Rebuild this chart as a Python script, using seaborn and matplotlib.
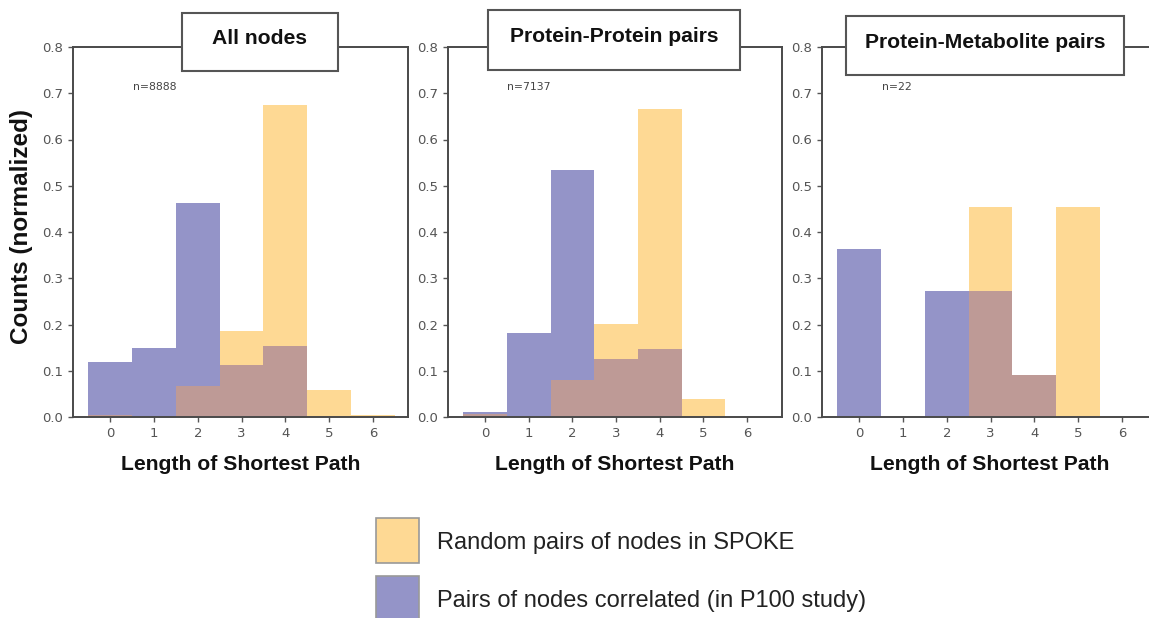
import numpy as np
import pandas as pd
import matplotlib
matplotlib.use("Agg")
import matplotlib.pyplot as plt
from matplotlib.patches import Rectangle
import seaborn as sns

# ---- data ----
path_lengths = [0, 1, 2, 3, 4, 5, 6]
panel_titles = ["All nodes", "Protein-Protein pairs", "Protein-Metabolite pairs"]
panel_n = ["n=8888", "n=7137", "n=22"]

random_all = [0.005, 0.0, 0.067, 0.187, 0.675, 0.059, 0.005]
corr_all = [0.119, 0.149, 0.463, 0.113, 0.154, 0.0, 0.0]

random_pp = [0.0065, 0.0, 0.081, 0.202, 0.667, 0.040, 0.0]
corr_pp = [0.011, 0.182, 0.534, 0.126, 0.146, 0.0, 0.0]

random_pm = [0.0, 0.0, 0.0, 0.455, 0.091, 0.455, 0.0]
corr_pm = [0.364, 0.0, 0.273, 0.273, 0.091, 0.0, 0.0]

yticks = [0.0, 0.1, 0.2, 0.3, 0.4, 0.5, 0.6, 0.7, 0.8]
legend_labels = ["Random pairs of nodes in SPOKE",
                 "Pairs of nodes correlated (in P100 study)"]

YELLOW = "#FED994"
PURPLE = "#9494C8"
BROWN = "#BE9A96"

sns.set_style("ticks")
plt.rcParams["font.family"] = ["DejaVu Sans"]

W, H = 1149, 618
fig = plt.figure(figsize=(W / 100, H / 100), dpi=100)

def fx(px):
    return px / W

def fy(py):
    return 1 - py / H

axes_px = [(73, 408), (448, 782), (822, 1157)]
top_px, bot_px = 47, 417
boxes_px = [(182, 13, 338, 71), (488, 10, 740, 70), (846, 16, 1124, 75)]
n_px = [133, 507, 882]

data = [(random_all, corr_all), (random_pp, corr_pp), (random_pm, corr_pm)]

for i, ((l, r), (rnd, cor)) in enumerate(zip(axes_px, data)):
    ax = fig.add_axes([fx(l), fy(bot_px), (r - l) / W, (bot_px - top_px) / H])
    df = pd.DataFrame({"length": path_lengths, "random": rnd, "corr": cor})
    df["overlap"] = np.minimum(df["random"], df["corr"])
    for col, c in [("random", YELLOW), ("corr", PURPLE), ("overlap", BROWN)]:
        sns.histplot(data=df, x="length", weights=col, discrete=True, shrink=1,
                     color=c, alpha=1, linewidth=0, edgecolor=c, ax=ax)
    ax.set_xlim(-0.85, 6.8)
    ax.set_ylim(0, 0.8)
    ax.set_xticks(path_lengths)
    ax.set_yticks(yticks)
    ax.set_yticklabels([f"{v:.1f}" for v in yticks])
    ax.tick_params(axis="both", labelsize=9.5, colors="#555555", length=3.5, width=1)
    for s in ax.spines.values():
        s.set_color("#4a4a4a")
        s.set_linewidth(1.4)
    ax.set_ylabel("")
    ax.set_xlabel("Length of Shortest Path", fontsize=15.2, fontweight="bold",
                  family="Liberation Sans", color="#111111", labelpad=11)
    ax.text(fx(n_px[i]), fy(87), panel_n[i], transform=fig.transFigure,
            fontsize=7.8, color="#444444", va="center", ha="left")
    bx0, by0, bx1, by1 = boxes_px[i]
    fig.patches.append(Rectangle((fx(bx0), fy(by1)), (bx1 - bx0) / W, (by1 - by0) / H,
                                 transform=fig.transFigure, facecolor="white",
                                 edgecolor="#555555", linewidth=1.5, zorder=5))
    fig.text(fx((bx0 + bx1) / 2), fy((by0 + by1) / 2 - 3), panel_titles[i],
             fontsize=15.2, fontweight="bold", family="Liberation Sans",
             ha="center", va="center", color="#111111", zorder=6)

fig.text(fx(22), fy(227), "Counts (normalized)", rotation=90, fontsize=17.5,
         fontweight="bold", family="Liberation Sans", ha="center", va="center",
         color="#111111")

# legend
for j, (lab, c) in enumerate(zip(legend_labels, [YELLOW, PURPLE])):
    y0 = 518 + j * 58
    fig.patches.append(Rectangle((fx(376), fy(y0 + 45)), 43 / W, 45 / H,
                                 transform=fig.transFigure, facecolor=c,
                                 edgecolor="#999999", linewidth=1.2))
    fig.text(fx(437), fy(y0 + 25), lab, fontsize=17, family="Liberation Sans",
             ha="left", va="center", color="#222222")

fig.savefig("out.png", dpi=100)
